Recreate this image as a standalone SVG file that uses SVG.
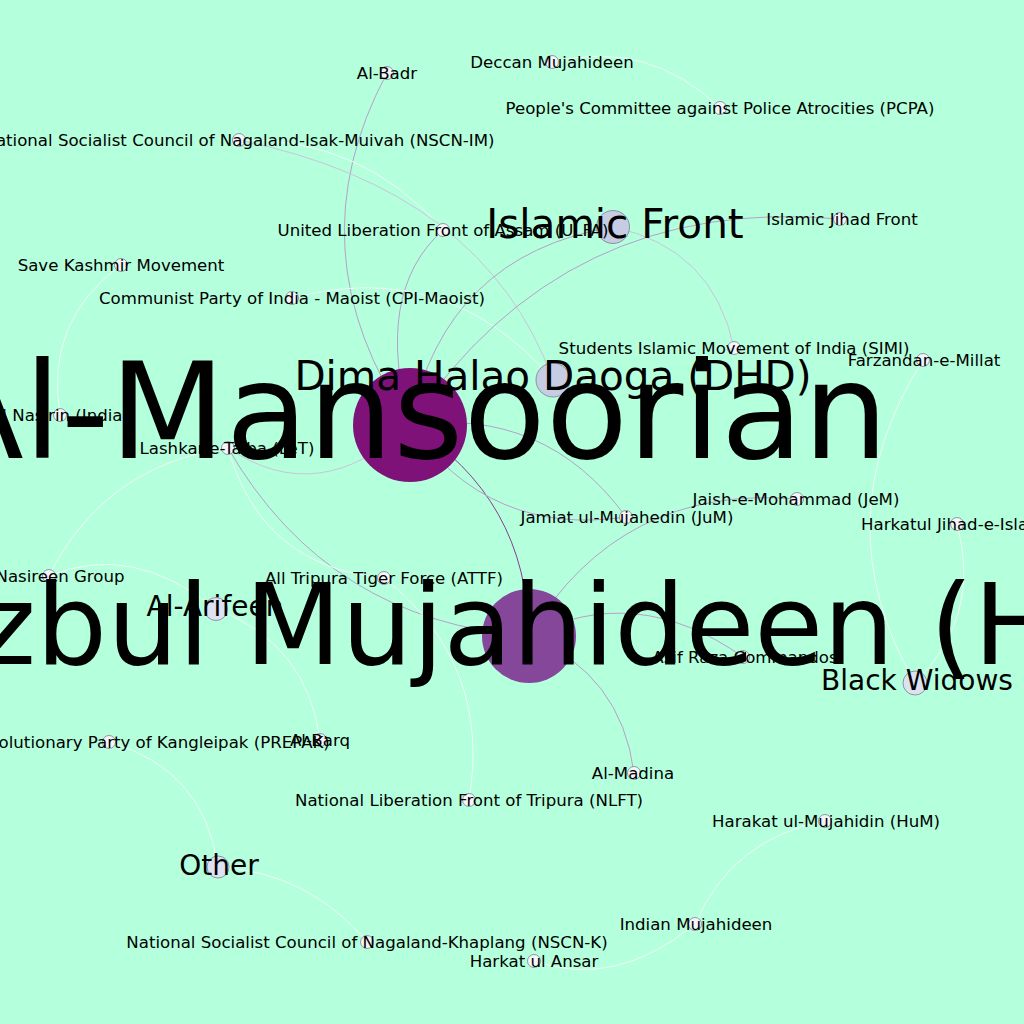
<svg xmlns="http://www.w3.org/2000/svg" width="1024" height="1024" viewBox="0 0 1024 1024">
<style>
.e{fill:none;stroke-width:1}
.lav{stroke:#b89fca}
.lt{stroke:#cbc4db}
.wh{stroke:#f2faf7}
.pu{stroke:#883d91}
.sm{fill:#f3f5fb;stroke:#7d7d8d;stroke-width:0.8}
.md{fill:#dde2f2;stroke:#7d7d8d;stroke-width:0.8}
.mg{fill:#c6cde2;stroke:#7d7d8d;stroke-width:0.8}
text{font-family:"DejaVu Sans","Liberation Sans",sans-serif;fill:#000;text-anchor:middle}
.s{font-size:16.6px}
.m{font-size:28px}
.b{font-size:40.5px}
</style>
<rect width="1024" height="1024" fill="#b4ffdc"/>
<g id="edges">
<path class="e lav" d="M387,73 Q291.5,251 410,425"/>
<path class="e wh" d="M239,140 Q362,137 443,230"/>
<path class="e lt" d="M239,140 Q484,190 553,380"/>
<path class="e lav" d="M443,230 Q373.5,292.5 410,425"/>
<path class="e wh" d="M292,298 Q448,257 553,380"/>
<path class="e lav" d="M410,425 Q445,255 613,227"/>
<path class="e lav" d="M410,425 Q563.6,194 840,219"/>
<path class="e lt" d="M613,227 Q713,248 734,348"/>
<path class="e wh" d="M552,62 Q648.6,38.8 720,108"/>
<path class="e wh" d="M121,265 Q44.3,321 60,415"/>
<path class="e wh" d="M228,448 Q104.8,464.8 49,576"/>
<path class="e lt" d="M228,448 Q319,509.5 410,425"/>
<path class="e lav" d="M228,448 Q328.7,621.8 529,636"/>
<path class="e wh" d="M228,448 Q261.2,566.8 384,578"/>
<path class="e wh" d="M384,578 Q491.9,664 469,800"/>
<path class="e wh" d="M49,576 Q131.5,541.5 216,609"/>
<path class="e wh" d="M216,609 Q307.2,643.6 320,740"/>
<path class="e pu" d="M410,425 Q527,498 529,636"/>
<path class="e lav" d="M410,425 Q545.4,406.6 626,517"/>
<path class="e lav" d="M626,517 Q489.8,537.2 410,425"/>
<path class="e lav" d="M529,636 Q620.2,484 797,499"/>
<path class="e wh" d="M923,360 Q821,520.5 915,683"/>
<path class="e wh" d="M957,524 Q982.4,615.7 915,683"/>
<path class="e lav" d="M529,636 Q636,581.5 743,657"/>
<path class="e lav" d="M529,636 Q621.3,674.1 634,773"/>
<path class="e wh" d="M825,821 Q732.6,838 695,924"/>
<path class="e wh" d="M695,924 Q615.5,989.5 534,961"/>
<path class="e wh" d="M109,742 Q204.3,769.1 218,867"/>
<path class="e wh" d="M218,867 Q308.7,872.3 367,942"/>
</g>
<g id="nodes">
<g id="n-almansoorian"><circle cx="410" cy="425" r="57" fill="#7f1279"/></g>
<g id="n-hm"><circle cx="529" cy="636" r="47" fill="#854799"/></g>
<g id="n-dhd"><circle class="mg" cx="553" cy="380" r="17"/></g>
<g id="n-if"><circle class="mg" cx="613" cy="227" r="16.5"/></g>
<g id="n-arifeen"><circle class="md" cx="216" cy="609" r="11.5"/></g>
<g id="n-other"><circle class="md" cx="218" cy="867" r="11"/></g>
<g id="n-bw"><circle class="md" cx="915" cy="683" r="12"/></g>
<g id="n-badr"><circle class="sm" cx="387" cy="73" r="6.5"/></g>
<g id="n-deccan"><circle class="sm" cx="552" cy="62" r="6.5"/></g>
<g id="n-pcpa"><circle class="sm" cx="720" cy="108" r="6.5"/></g>
<g id="n-nscnim"><circle class="sm" cx="239" cy="140" r="6.5"/></g>
<g id="n-ulfa"><circle class="sm" cx="443" cy="230" r="6.5"/></g>
<g id="n-ijf"><circle class="sm" cx="840" cy="219" r="6.5"/></g>
<g id="n-skm"><circle class="sm" cx="121" cy="265" r="6.5"/></g>
<g id="n-cpi"><circle class="sm" cx="292" cy="298" r="6.5"/></g>
<g id="n-simi"><circle class="sm" cx="734" cy="348" r="6.5"/></g>
<g id="n-farz"><circle class="sm" cx="923" cy="360" r="6.5"/></g>
<g id="n-nasirin"><circle class="sm" cx="60" cy="415" r="6.5"/></g>
<g id="n-let"><circle class="sm" cx="228" cy="448" r="6.5"/></g>
<g id="n-jum"><circle class="sm" cx="626" cy="517" r="6.5"/></g>
<g id="n-jem"><circle class="sm" cx="797" cy="499" r="6.5"/></g>
<g id="n-hjei"><circle class="sm" cx="957" cy="524" r="6.5"/></g>
<g id="n-nasireen"><circle class="sm" cx="49" cy="576" r="6.5"/></g>
<g id="n-attf"><circle class="sm" cx="384" cy="578" r="6.5"/></g>
<g id="n-asif"><circle class="sm" cx="743" cy="657" r="6.5"/></g>
<g id="n-prepak"><circle class="sm" cx="109" cy="742" r="6.5"/></g>
<g id="n-barq"><circle class="sm" cx="320" cy="740" r="6.5"/></g>
<g id="n-madina"><circle class="sm" cx="634" cy="773" r="6.5"/></g>
<g id="n-nlft"><circle class="sm" cx="469" cy="800" r="6.5"/></g>
<g id="n-hum"><circle class="sm" cx="825" cy="821" r="6.5"/></g>
<g id="n-im"><circle class="sm" cx="695" cy="924" r="6.5"/></g>
<g id="n-nscnk"><circle class="sm" cx="367" cy="942" r="6.5"/></g>
<g id="n-hua"><circle class="sm" cx="534" cy="961" r="6.5"/></g>
</g>
<g id="labels">
<text class="s" x="387" y="78.5">Al-Badr</text>
<text class="s" x="552" y="67.5">Deccan Mujahideen</text>
<text class="s" x="720" y="113.5">People's Committee against Police Atrocities (PCPA)</text>
<text class="s" x="239" y="145.5">National Socialist Council of Nagaland-Isak-Muivah (NSCN-IM)</text>
<text class="s" x="443" y="235.5">United Liberation Front of Assam (ULFA)</text>
<text class="s" x="842" y="224.5">Islamic Jihad Front</text>
<text class="s" x="121" y="270.5">Save Kashmir Movement</text>
<text class="s" x="292" y="303.5">Communist Party of India - Maoist (CPI-Maoist)</text>
<text class="s" x="734" y="353.5">Students Islamic Movement of India (SIMI)</text>
<text class="s" x="924" y="365.5">Farzandan-e-Millat</text>
<text class="s" x="60" y="420.5">Al Nasirin (India)</text>
<text class="s" x="227" y="453.5">Lashkar-e-Taiba (LeT)</text>
<text class="s" x="627" y="522.5">Jamiat ul-Mujahedin (JuM)</text>
<text class="s" x="796" y="504.5">Jaish-e-Mohammad (JeM)</text>
<text class="s" x="955" y="529.5">Harkatul Jihad-e-Islami</text>
<text class="s" x="49" y="581.5">Al-Nasireen Group</text>
<text class="s" x="384" y="583.5">All Tripura Tiger Force (ATTF)</text>
<text class="s" x="745" y="662.5">Asif Raza Commandos</text>
<text class="s" x="112" y="747.5">People's Revolutionary Party of Kangleipak (PREPAK)</text>
<text class="s" x="320" y="745.5">Al-Barq</text>
<text class="s" x="633" y="778.5">Al-Madina</text>
<text class="s" x="469" y="805.5">National Liberation Front of Tripura (NLFT)</text>
<text class="s" x="826" y="826.5">Harakat ul-Mujahidin (HuM)</text>
<text class="s" x="696" y="929.5">Indian Mujahideen</text>
<text class="s" x="367" y="947.5">National Socialist Council of Nagaland-Khaplang (NSCN-K)</text>
<text class="s" x="534" y="966.5">Harkat ul Ansar</text>
<text class="m" x="215" y="616">Al-Arifeen</text>
<text class="m" x="219" y="875">Other</text>
<text class="m" x="917" y="690">Black Widows</text>
<text class="b" x="615" y="238">Islamic Front</text>
<text class="b" x="553" y="390">Dima Halao Daoga (DHD)</text>
<text x="410" y="458" style="font-size:134.5px">Al-Mansoorian</text>
<text x="530" y="664" style="font-size:112px">Hizbul Mujahideen (HM)</text>
</g>
</svg>
